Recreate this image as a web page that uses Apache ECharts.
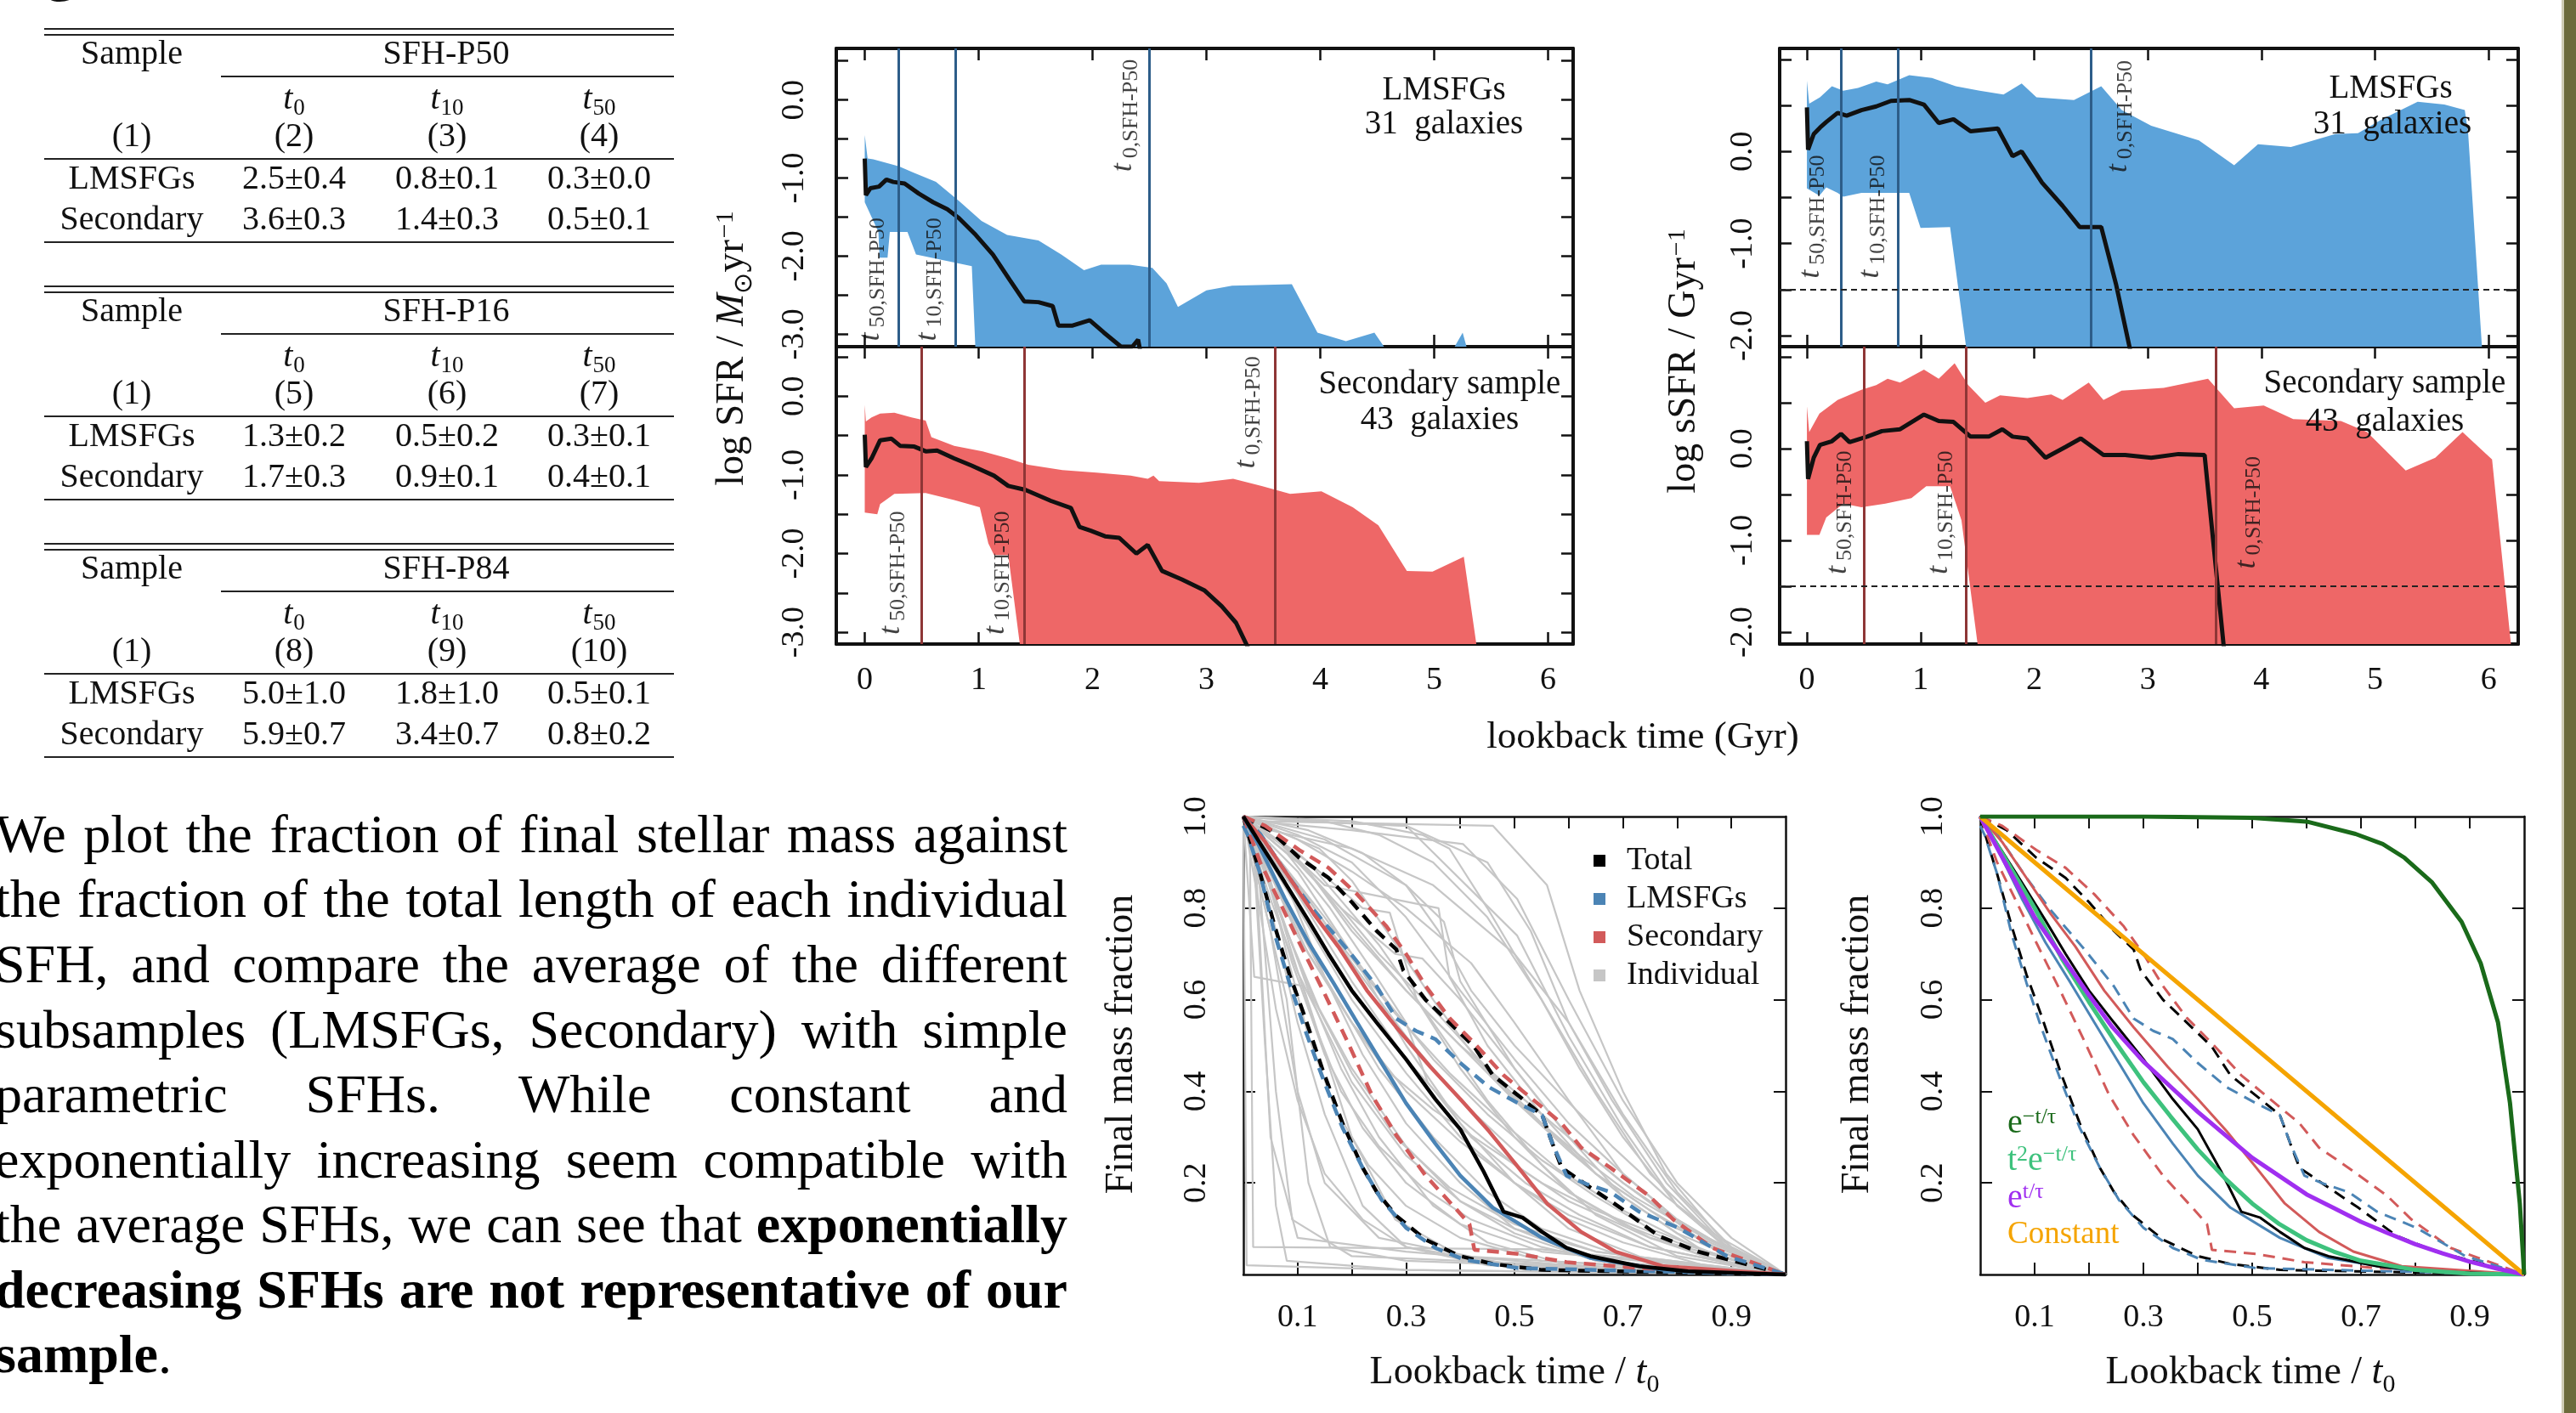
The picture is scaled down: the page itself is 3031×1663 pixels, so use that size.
<!DOCTYPE html>
<html><head><meta charset="utf-8">
<script src="https://cdn.jsdelivr.net/npm/echarts@6/dist/echarts.min.js"></script>
<style>html,body{margin:0;padding:0;background:#fff;overflow:hidden}#c{width:3031px;height:1663px}</style>
</head><body><div id="c"></div>
<script>
const FONT = '"Liberation Serif","Times New Roman",serif';

// ---------------- Table ----------------
const tableTitles = ['SFH-P50', 'SFH-P16', 'SFH-P84'];
const tableColNums = [['(2)','(3)','(4)'], ['(5)','(6)','(7)'], ['(8)','(9)','(10)']];
const tableSamples = ['LMSFGs', 'Secondary'];
const tableP50 = [['2.5±0.4','0.8±0.1','0.3±0.0'], ['3.6±0.3','1.4±0.3','0.5±0.1']];
const tableP16 = [['1.3±0.2','0.5±0.2','0.3±0.1'], ['1.7±0.3','0.9±0.1','0.4±0.1']];
const tableP84 = [['5.0±1.0','1.8±1.0','0.5±0.1'], ['5.9±0.7','3.4±0.7','0.8±0.2']];
const tableSubs = ['0','10','50'];

// ---------------- Paragraph ----------------
const paraLines = [
  'We plot the fraction of final stellar mass against',
  'the fraction of the total length of each individual',
  'SFH, and compare the average of the different',
  'subsamples (LMSFGs, Secondary) with simple',
  'parametric SFHs. While constant and',
  'exponentially increasing seem compatible with',
  'the average SFHs, we can see that *exponentially*',
  '*decreasing SFHs are not representative of our*',
  '*sample*.'
];

// ---------------- SFR / sSFR panels ----------------
const gyrTicks = [0,1,2,3,4,5,6];
const sfrTicks = [-3,-2.5,-2,-1.5,-1,-0.5,0,0.5];
const sfrLabels = [-3,-2,-1,0];
const ssfrTicks = [-2,-1.5,-1,-0.5,0,0.5,1];
const ssfrLabels = [-2,-1,0];
const tLmsfgs = [0.3, 0.8, 2.5];      // t50, t10, t0 (SFH-P50)
const tSecondary = [0.5, 1.4, 3.6];
const ssfrThreshold = -1.5;

// log SFR, LMSFGs
const sfrLmsUpper = [[0,-0.45],[0.025,-0.75],[0.075,-0.76],[0.225,-0.82],[0.3,-0.85],[0.425,-0.93],[0.625,-1.05],[0.825,-1.29],[1.025,-1.55],[1.25,-1.73],[1.525,-1.8],[1.725,-1.98],[1.925,-2.18],[2.075,-2.11],[2.325,-2.11],[2.525,-2.15],[2.65,-2.35],[2.75,-2.65],[3.0,-2.44],[3.225,-2.38],[3.75,-2.36],[3.975,-2.98],[4.225,-3.09],[4.475,-2.98],[4.625,-3.3],[5.125,-3.3],[5.25,-2.98],[5.31,-3.3]];
const sfrLmsLower = [[0,-1.31],[0.12,-1.69],[0.13,-2.02],[0.2,-2.02],[0.22,-1.69],[0.375,-1.69],[0.45,-1.98],[0.94,-2.13],[0.975,-3.3],[5.31,-3.3]];
const sfrLmsMedian = [[0,-0.75],[0.01,-1.22],[0.05,-1.13],[0.125,-1.11],[0.19,-1.02],[0.25,-1.05],[0.35,-1.07],[0.475,-1.2],[0.6,-1.31],[0.725,-1.4],[0.825,-1.51],[0.975,-1.73],[1.125,-1.98],[1.275,-2.31],[1.4,-2.58],[1.525,-2.59],[1.65,-2.64],[1.7,-2.89],[1.825,-2.89],[1.975,-2.82],[2.1,-2.98],[2.25,-3.16],[2.35,-3.16],[2.4,-3.07],[2.43,-3.3]];
// log SFR, Secondary
const sfrSecUpper = [[0,-0.11],[0.01,-0.32],[0.06,-0.27],[0.135,-0.22],[0.26,-0.21],[0.41,-0.27],[0.535,-0.31],[0.585,-0.52],[0.785,-0.63],[1.035,-0.7],[1.26,-0.79],[1.435,-0.87],[1.735,-0.94],[2.035,-0.97],[2.335,-1.01],[2.485,-1.05],[2.535,-1.01],[2.585,-1.08],[2.935,-1.1],[3.235,-1.05],[3.485,-1.14],[3.735,-1.24],[4.01,-1.21],[4.285,-1.41],[4.51,-1.64],[4.76,-2.22],[4.985,-2.23],[5.26,-2.04],[5.385,-3.3]];
const sfrSecLower = [[0,-1.48],[0.11,-1.5],[0.135,-1.37],[0.26,-1.24],[0.535,-1.23],[0.785,-1.32],[1.01,-1.41],[1.085,-1.87],[1.135,-2.02],[1.26,-2.02],[1.375,-3.3],[5.385,-3.3]];
const sfrSecMedian = [[0,-0.49],[0.01,-0.9],[0.06,-0.79],[0.135,-0.56],[0.235,-0.54],[0.31,-0.63],[0.435,-0.64],[0.535,-0.7],[0.635,-0.69],[0.785,-0.79],[0.935,-0.88],[1.135,-1.01],[1.26,-1.14],[1.41,-1.19],[1.635,-1.33],[1.81,-1.42],[1.885,-1.66],[1.985,-1.71],[2.11,-1.78],[2.235,-1.8],[2.385,-2.0],[2.485,-1.89],[2.61,-2.22],[2.785,-2.33],[2.985,-2.47],[3.135,-2.67],[3.26,-2.88],[3.4,-3.3]];
// log sSFR, LMSFGs
const ssfrLmsUpper = [[0,0.77],[0.02,0.52],[0.115,0.59],[0.22,0.71],[0.32,0.66],[0.45,0.69],[0.61,0.76],[0.71,0.73],[0.9,0.83],[1.1,0.8],[1.31,0.71],[1.52,0.66],[1.73,0.62],[1.89,0.74],[2.02,0.59],[2.35,0.56],[2.59,0.71],[2.77,0.45],[3.03,0.28],[3.45,0.12],[3.76,-0.15],[3.97,0.08],[4.26,0.05],[4.65,0.19],[4.85,0.2],[5.06,0.35],[5.375,0.54],[5.61,0.51],[5.79,0.45],[5.82,0.19],[5.95,-2.3]];
const ssfrLmsLower = [[0,-0.4],[0.11,-0.48],[0.17,-0.39],[0.27,-0.45],[0.32,-0.49],[0.48,-0.45],[0.9,-0.45],[1.0,-0.83],[1.26,-0.82],[1.42,-2.3],[5.95,-2.3]];
const ssfrLmsMedian = [[0,0.48],[0.01,0.02],[0.06,0.19],[0.115,0.26],[0.17,0.32],[0.27,0.42],[0.35,0.39],[0.48,0.45],[0.61,0.49],[0.74,0.55],[0.9,0.56],[1.03,0.51],[1.16,0.31],[1.29,0.35],[1.44,0.22],[1.68,0.25],[1.81,-0.05],[1.89,0.0],[2.07,-0.34],[2.25,-0.59],[2.4,-0.82],[2.59,-0.82],[2.72,-1.44],[2.87,-2.3]];
// log sSFR, Secondary
const ssfrSecUpper = [[0,0.46],[0.02,0.18],[0.11,0.38],[0.27,0.53],[0.48,0.64],[0.61,0.69],[0.71,0.76],[0.82,0.72],[1.03,0.86],[1.16,0.76],[1.3,0.93],[1.42,0.69],[1.57,0.5],[1.7,0.58],[1.94,0.55],[2.15,0.59],[2.25,0.53],[2.48,0.72],[2.61,0.53],[2.77,0.63],[3.14,0.66],[3.53,0.76],[3.76,0.44],[4.02,0.47],[4.28,0.32],[4.7,0.3],[4.93,0.18],[5.27,-0.24],[5.53,-0.1],[5.77,0.18],[6.03,-0.12],[6.21,-2.3]];
const ssfrSecLower = [[0,-0.94],[0.11,-0.94],[0.17,-0.75],[0.32,-0.6],[0.48,-0.64],[0.69,-0.6],[0.92,-0.54],[1.05,-0.41],[1.26,-0.41],[1.36,-0.78],[1.52,-2.3],[6.21,-2.3]];
const ssfrSecMedian = [[0,0.08],[0.01,-0.33],[0.06,-0.1],[0.115,0.04],[0.22,0.08],[0.3,0.16],[0.375,0.07],[0.53,0.13],[0.66,0.19],[0.82,0.21],[1.03,0.37],[1.16,0.3],[1.29,0.29],[1.44,0.13],[1.6,0.13],[1.72,0.21],[1.81,0.13],[1.94,0.11],[2.1,-0.1],[2.28,0.02],[2.41,0.11],[2.61,-0.07],[2.8,-0.07],[3.03,-0.1],[3.27,-0.06],[3.5,-0.07],[3.68,-2.3]];

// rotated t-labels: [x, y-start, subscript]
const lblSfrLms = [[0.05,-3.09,'50,SFH-P50'],[0.55,-3.09,'10,SFH-P50'],[2.27,-0.92,'0,SFH-P50']];
const lblSfrSec = [[0.23,-3.03,'50,SFH-P50'],[1.15,-3.03,'10,SFH-P50'],[3.35,-0.92,'0,SFH-P50']];
const lblSsfrLms = [[0.03,-1.38,'50,SFH-P50'],[0.56,-1.38,'10,SFH-P50'],[2.74,-0.23,'0,SFH-P50']];
const lblSsfrSec = [[0.27,-1.37,'50,SFH-P50'],[1.16,-1.37,'10,SFH-P50'],[3.87,-1.31,'0,SFH-P50']];

// ---------------- Mass fraction panels ----------------
const fracTicks = [0.1,0.2,0.3,0.4,0.5,0.6,0.7,0.8,0.9];
const fracXLabels = [0.1,0.3,0.5,0.7,0.9];
const fracYTicks = [0.2,0.4,0.6,0.8];
const fracYLabels = [0.2,0.4,0.6,0.8,1.0];

const totalMed = [[0,1],[0.029,0.945],[0.076,0.857],[0.12,0.773],[0.157,0.7],[0.2,0.62],[0.246,0.55],[0.3,0.47],[0.354,0.383],[0.4,0.317],[0.443,0.225],[0.48,0.137],[0.515,0.124],[0.551,0.093],[0.596,0.058],[0.64,0.04],[0.73,0.018],[0.82,0.007],[1,0]];
const lmsMed = [[0,1],[0.029,0.936],[0.076,0.822],[0.12,0.725],[0.166,0.637],[0.21,0.55],[0.255,0.462],[0.3,0.374],[0.354,0.286],[0.4,0.216],[0.46,0.146],[0.551,0.08],[0.64,0.036],[0.775,0.01],[1,0]];
const secMed = [[0,1],[0.04,0.945],[0.085,0.866],[0.13,0.787],[0.175,0.716],[0.228,0.62],[0.282,0.54],[0.345,0.453],[0.4,0.383],[0.453,0.313],[0.507,0.234],[0.56,0.155],[0.623,0.093],[0.686,0.05],[0.775,0.018],[1,0]];
const totalHi = [[0,1],[0.049,0.97],[0.103,0.91],[0.157,0.866],[0.2,0.813],[0.246,0.75],[0.282,0.71],[0.295,0.664],[0.336,0.6],[0.38,0.55],[0.426,0.497],[0.46,0.435],[0.515,0.383],[0.551,0.348],[0.57,0.286],[0.587,0.233],[0.64,0.19],[0.695,0.146],[0.766,0.084],[0.838,0.05],[1,0]];
const secHi = [[0,1],[0.04,0.98],[0.103,0.927],[0.157,0.888],[0.21,0.83],[0.264,0.76],[0.3,0.7],[0.336,0.63],[0.38,0.56],[0.426,0.505],[0.48,0.435],[0.533,0.383],[0.587,0.33],[0.623,0.277],[0.677,0.233],[0.748,0.172],[0.793,0.12],[0.865,0.058],[1,0]];
const lmsHi = [[0,1],[0.031,0.962],[0.085,0.866],[0.13,0.795],[0.193,0.708],[0.246,0.629],[0.282,0.559],[0.318,0.532],[0.354,0.514],[0.4,0.462],[0.453,0.409],[0.507,0.374],[0.551,0.348],[0.57,0.286],[0.596,0.216],[0.632,0.198],[0.677,0.18],[0.73,0.137],[0.802,0.102],[0.892,0.04],[1,0]];
const totalLo = [[0,1],[0.008,0.965],[0.031,0.875],[0.058,0.76],[0.085,0.655],[0.112,0.567],[0.147,0.444],[0.183,0.33],[0.22,0.233],[0.246,0.18],[0.282,0.128],[0.336,0.076],[0.4,0.04],[0.46,0.023],[0.551,0.01],[1,0]];
const lmsLo = [[0,0.98],[0.008,0.96],[0.031,0.875],[0.058,0.742],[0.085,0.637],[0.112,0.54],[0.147,0.427],[0.183,0.32],[0.22,0.233],[0.255,0.163],[0.3,0.102],[0.354,0.058],[0.408,0.032],[0.507,0.014],[1,0]];
const secLo = [[0,1],[0.031,0.9],[0.067,0.813],[0.103,0.725],[0.147,0.62],[0.193,0.506],[0.237,0.392],[0.282,0.304],[0.336,0.216],[0.39,0.146],[0.417,0.11],[0.426,0.054],[0.507,0.045],[0.596,0.027],[0.73,0.014],[1,0]];

const individualSFHs = [
 [[0,1],[0.012,0.95],[0.018,0.06],[0.55,0.055],[1,0]],
 [[0,1],[0.02,0.96],[0.05,0.3],[0.1,0.08],[0.3,0.05],[0.6,0.02],[1,0]],
 [[0,1],[0.006,0.02],[0.3,0.01],[1,0]],
 [[0,1],[0.03,0.85],[0.06,0.4],[0.09,0.12],[0.2,0.04],[1,0]],
 [[0,1],[0.05,0.75],[0.1,0.4],[0.15,0.2],[0.25,0.08],[0.5,0.02],[1,0]],
 [[0,1],[0.05,0.8],[0.1,0.55],[0.15,0.35],[0.22,0.15],[0.3,0.06],[0.5,0.02],[1,0]],
 [[0,1],[0.02,0.65],[0.11,0.63],[0.2,0.3],[0.28,0.12],[0.4,0.04],[1,0]],
 [[0,1],[0.06,0.82],[0.12,0.62],[0.18,0.45],[0.25,0.3],[0.35,0.15],[0.45,0.07],[0.6,0.02],[1,0]],
 [[0,1],[0.08,0.85],[0.15,0.65],[0.22,0.48],[0.3,0.33],[0.4,0.2],[0.5,0.1],[0.65,0.03],[1,0]],
 [[0,1],[0.1,0.88],[0.2,0.7],[0.3,0.5],[0.4,0.33],[0.5,0.2],[0.6,0.1],[0.75,0.03],[1,0]],
 [[0,1],[0.12,0.9],[0.25,0.72],[0.35,0.55],[0.45,0.38],[0.55,0.24],[0.65,0.13],[0.8,0.04],[1,0]],
 [[0,1],[0.15,0.95],[0.3,0.85],[0.37,0.77],[0.4,0.64],[0.5,0.45],[0.6,0.3],[0.7,0.17],[0.85,0.05],[1,0]],
 [[0,1],[0.2,0.99],[0.33,0.96],[0.38,0.93],[0.45,0.8],[0.55,0.6],[0.65,0.4],[0.75,0.22],[0.88,0.07],[1,0]],
 [[0,1],[0.1,0.99],[0.3,0.98],[0.45,0.9],[0.53,0.75],[0.6,0.55],[0.68,0.38],[0.78,0.2],[0.9,0.05],[1,0]],
 [[0,1],[0.05,0.97],[0.2,0.93],[0.35,0.85],[0.5,0.7],[0.6,0.55],[0.7,0.35],[0.8,0.18],[0.9,0.06],[1,0]],
 [[0,1],[0.1,0.95],[0.2,0.88],[0.3,0.8],[0.42,0.68],[0.5,0.55],[0.6,0.38],[0.7,0.22],[0.82,0.1],[1,0]],
 [[0,1],[0.08,0.93],[0.18,0.8],[0.28,0.7],[0.33,0.69],[0.4,0.6],[0.5,0.45],[0.6,0.3],[0.7,0.2],[0.85,0.07],[1,0]],
 [[0,1],[0.12,0.88],[0.2,0.75],[0.3,0.62],[0.4,0.5],[0.5,0.38],[0.6,0.27],[0.7,0.17],[0.8,0.09],[0.92,0.03],[1,0]],
 [[0,1],[0.04,0.9],[0.1,0.74],[0.2,0.55],[0.3,0.4],[0.4,0.29],[0.5,0.2],[0.6,0.13],[0.75,0.06],[1,0]],
 [[0,1],[0.05,0.88],[0.1,0.76],[0.15,0.65],[0.25,0.45],[0.35,0.3],[0.45,0.18],[0.55,0.1],[0.7,0.04],[1,0]],
 [[0,1],[0.03,0.92],[0.08,0.75],[0.14,0.58],[0.2,0.45],[0.3,0.28],[0.4,0.16],[0.5,0.09],[0.65,0.03],[1,0]],
 [[0,1],[0.04,0.88],[0.09,0.68],[0.15,0.48],[0.22,0.32],[0.3,0.2],[0.4,0.11],[0.55,0.05],[1,0]],
 [[0,1],[0.06,0.85],[0.12,0.7],[0.2,0.55],[0.26,0.45],[0.35,0.36],[0.45,0.28],[0.55,0.2],[0.65,0.14],[0.8,0.07],[1,0]],
 [[0,1],[0.07,0.9],[0.15,0.78],[0.25,0.62],[0.35,0.47],[0.45,0.35],[0.55,0.25],[0.65,0.17],[0.75,0.1],[0.88,0.04],[1,0]],
 [[0,1],[0.1,0.92],[0.18,0.84],[0.22,0.8],[0.27,0.79],[0.32,0.6],[0.4,0.45],[0.5,0.3],[0.6,0.18],[0.75,0.08],[1,0]],
 [[0,1],[0.08,0.93],[0.15,0.85],[0.36,0.8],[0.38,0.65],[0.45,0.5],[0.55,0.35],[0.65,0.22],[0.8,0.1],[1,0]],
 [[0,1],[0.02,0.99],[0.2,0.97],[0.405,0.94],[0.505,0.82],[0.6,0.6],[0.7,0.38],[0.8,0.2],[0.9,0.08],[1,0]],
 [[0,1],[0.1,0.99],[0.3,0.98],[0.505,0.74],[0.6,0.52],[0.7,0.32],[0.8,0.15],[0.9,0.05],[1,0]],
 [[0,1],[0.05,0.9],[0.1,0.8],[0.2,0.6],[0.3,0.44],[0.4,0.3],[0.5,0.2],[0.6,0.12],[0.7,0.07],[0.85,0.02],[1,0]],
 [[0,1],[0.05,0.93],[0.12,0.82],[0.2,0.68],[0.3,0.52],[0.4,0.38],[0.5,0.27],[0.6,0.18],[0.7,0.11],[0.85,0.04],[1,0]],
 [[0,1],[0.03,0.95],[0.1,0.85],[0.18,0.72],[0.28,0.57],[0.38,0.44],[0.48,0.33],[0.58,0.23],[0.7,0.14],[0.85,0.05],[1,0]],
 [[0,1],[0.1,0.83],[0.2,0.64],[0.3,0.47],[0.4,0.34],[0.5,0.24],[0.6,0.16],[0.75,0.08],[0.9,0.02],[1,0]],
 [[0,1],[0.05,0.82],[0.1,0.66],[0.2,0.42],[0.3,0.26],[0.4,0.16],[0.5,0.1],[0.65,0.05],[1,0]],
 [[0,1],[0.07,0.78],[0.13,0.6],[0.2,0.44],[0.28,0.3],[0.38,0.19],[0.5,0.11],[0.65,0.05],[1,0]],
 [[0,1],[0.06,0.95],[0.12,0.88],[0.2,0.76],[0.3,0.62],[0.4,0.5],[0.5,0.4],[0.6,0.3],[0.7,0.2],[0.8,0.12],[0.9,0.05],[1,0]],
 [[0,1],[0.1,0.96],[0.2,0.9],[0.3,0.78],[0.4,0.62],[0.5,0.47],[0.6,0.33],[0.7,0.22],[0.8,0.12],[0.9,0.05],[1,0]],
 [[0,1],[0.15,0.99],[0.25,0.96],[0.35,0.9],[0.45,0.78],[0.55,0.6],[0.62,0.45],[0.7,0.3],[0.8,0.15],[0.9,0.05],[1,0]],
 [[0,1],[0.02,0.97],[0.05,0.85],[0.08,0.7],[0.12,0.52],[0.17,0.36],[0.23,0.24],[0.3,0.15],[0.4,0.08],[0.55,0.03],[1,0]],
 [[0,1],[0.03,0.8],[0.06,0.58],[0.1,0.38],[0.15,0.22],[0.22,0.12],[0.3,0.06],[0.45,0.02],[1,0]],
 [[0,1],[0.08,0.92],[0.16,0.8],[0.24,0.66],[0.3,0.55],[0.34,0.42],[0.42,0.3],[0.52,0.2],[0.62,0.13],[0.75,0.06],[1,0]],
 [[0,1],[0.04,0.96],[0.1,0.9],[0.18,0.8],[0.25,0.7],[0.35,0.58],[0.45,0.45],[0.55,0.33],[0.65,0.22],[0.75,0.14],[0.88,0.05],[1,0]],
 [[0,1],[0.12,0.97],[0.22,0.92],[0.3,0.85],[0.36,0.75],[0.42,0.62],[0.5,0.5],[0.58,0.4],[0.68,0.28],[0.78,0.17],[0.9,0.06],[1,0]],
 [[0,1],[0.05,0.86],[0.09,0.7],[0.13,0.55],[0.18,0.4],[0.25,0.28],[0.33,0.19],[0.42,0.12],[0.55,0.06],[0.7,0.02],[1,0]],
 [[0,1],[0.08,0.96],[0.14,0.93],[0.2,0.86],[0.27,0.74],[0.35,0.6],[0.43,0.47],[0.52,0.36],[0.62,0.26],[0.72,0.17],[0.85,0.08],[1,0]],
 [[0,1],[0.02,0.99],[0.46,0.98],[0.56,0.85],[0.62,0.62],[0.7,0.4],[0.78,0.22],[0.88,0.08],[1,0]],
 [[0,1],[0.02,0.9],[0.04,0.5],[0.06,0.15],[0.08,0.03],[0.3,0.01],[1,0]],
 [[0,1],[0.08,0.6],[0.12,0.2],[0.16,0.06],[0.3,0.03],[1,0]]
];

// parametric models
const modelExpDec = [[0,1],[0.3,1],[0.5,0.997],[0.6,0.989],[0.69,0.962],[0.74,0.94],[0.78,0.91],[0.83,0.857],[0.885,0.77],[0.92,0.68],[0.952,0.55],[0.974,0.374],[0.992,0.155],[1,0]];
const modelDelayed = [[0,1],[0.05,0.9],[0.1,0.8],[0.15,0.69],[0.2,0.595],[0.25,0.505],[0.3,0.42],[0.35,0.345],[0.4,0.273],[0.45,0.21],[0.5,0.155],[0.55,0.11],[0.6,0.075],[0.65,0.05],[0.7,0.03],[0.8,0.01],[0.9,0.002],[1,0]];
const modelExpInc = [[0,1],[0.1,0.78],[0.2,0.61],[0.243,0.54],[0.3,0.465],[0.35,0.41],[0.4,0.355],[0.45,0.305],[0.5,0.255],[0.55,0.215],[0.6,0.175],[0.65,0.145],[0.7,0.115],[0.75,0.09],[0.8,0.066],[0.85,0.046],[0.9,0.028],[0.95,0.013],[1,0]];
const modelConst = [[0,1],[1,0]];

// ---------------- colours ----------------
const C_BLUE_FILL = '#5ca3da', C_RED_FILL = '#ee6767';
const C_BLUE_VL = '#2d5d89', C_RED_VL = '#8e3636';
const C_BLUE = '#4b84b5', C_RED = '#d25a5a', C_GRAY = '#c6c6c6', C_BLACK = '#000';

// ---------------- layout ----------------
const grids = [
  {left:984,  top:57,  width:867, height:351},
  {left:984,  top:408, width:867, height:350},
  {left:2094, top:57,  width:869, height:351},
  {left:2094, top:408, width:869, height:350},
  {left:1463, top:961, width:638, height:539},
  {left:2330, top:961, width:640, height:539}
];
const xAxes = [], yAxes = [];
function addAxes(gi, xr, yr, xt, xl, yt, yl, opt) {
  const base = (pos, r, ticks, labels, show, isY) => ({
    type:'value', gridIndex:gi, position:pos, min:r[0], max:r[1],
    axisLine:{show:true, onZero:false, lineStyle:{color:'#111', width:opt.lw}},
    axisTick:{show:true, inside:true, length:opt.tl, customValues:ticks, lineStyle:{color:'#111', width:opt.tw}},
    axisLabel:{show:show, customValues:labels, rotate:isY?90:0, margin:isY?opt.ym:opt.xm,
      fontFamily:FONT, fontSize:opt.fs, color:'#111',
      formatter: isY ? opt.fy : opt.fx},
    splitLine:{show:false}, axisPointer:{show:false}
  });
  xAxes.push(base('bottom', xr, xt, xl, opt.showX, false));
  xAxes.push(base('top', xr, xt, xl, false, false));
  yAxes.push(base('left', yr, yt, yl, true, true));
  yAxes.push(base('right', yr, yt, yl, false, true));
}
const fmtInt = v => String(Math.round(v));
const fmt1 = v => Number(v).toFixed(1);
const topOpt = (showX, ym) => ({lw:4, tl:14, tw:2.5, fs:38, xm:24, ym:ym, showX:showX, fx:fmtInt, fy:fmt1});
const botOpt = {lw:2.5, tl:14, tw:2, fs:38, xm:32, ym:36, showX:true, fx:fmt1, fy:fmt1};
addAxes(0, [-0.25,6.22], [-3.16,0.66], gyrTicks, gyrTicks, sfrTicks, sfrLabels, topOpt(false,30));
addAxes(1, [-0.25,6.22], [-3.15,0.63], gyrTicks, gyrTicks, sfrTicks, sfrLabels, topOpt(true,30));
addAxes(2, [-0.24,6.26], [-2.12,1.12], gyrTicks, gyrTicks, ssfrTicks, ssfrLabels, topOpt(false,24));
addAxes(3, [-0.24,6.26], [-2.13,1.11], gyrTicks, gyrTicks, ssfrTicks, ssfrLabels, topOpt(true,24));
addAxes(4, [0,1], [0,1], fracTicks, fracXLabels, fracYTicks, fracYLabels, botOpt);
addAxes(5, [0,1], [0,1], fracTicks, fracXLabels, fracYTicks, fracYLabels, botOpt);

const series = [];
function band(gi, upper, lower, color) {
  series.push({type:'custom', xAxisIndex:2*gi, yAxisIndex:2*gi, clip:true, silent:true, z:1,
    data:[[0,0]],
    renderItem:(params, api) => {
      const pts = upper.map(p => api.coord(p)).concat(lower.slice().reverse().map(p => api.coord(p)));
      return {type:'polygon', shape:{points:pts}, style:{fill:color}};
    }});
}
function median(gi, data, vlines, vcolor, withThreshold) {
  const ml = vlines.map(v => ({xAxis:v, lineStyle:{color:vcolor, width:3, type:'solid'}}));
  if (withThreshold) ml.push({yAxis:ssfrThreshold, lineStyle:{color:'#222', width:1.8, type:[7,5]}});
  series.push({type:'line', xAxisIndex:2*gi, yAxisIndex:2*gi, data:data, symbol:'none', clip:true, z:3,
    lineStyle:{color:'#111', width:5}, silent:true,
    markLine:{silent:true, symbol:['none','none'], label:{show:false}, data:ml, animation:false}});
}
function tlabels(gi, arr) {
  series.push({type:'scatter', xAxisIndex:2*gi, yAxisIndex:2*gi, symbolSize:0, z:6, silent:true,
    data: arr.map(a => ({value:[a[0], a[1]], name:a[2]})),
    label:{show:true, position:'inside', rotate:90, align:'left', verticalAlign:'middle',
      formatter: p => '{t|t}{s|' + p.name + '}',
      rich:{t:{fontFamily:FONT, fontStyle:'italic', fontSize:36, color:'#111', verticalAlign:'top', lineHeight:36, padding:[0,6,0,0]},
            s:{fontFamily:FONT, fontSize:26, color:'#111', verticalAlign:'top', lineHeight:26, padding:[14,0,0,0]}}}});
}
band(0, sfrLmsUpper, sfrLmsLower, C_BLUE_FILL);
median(0, sfrLmsMedian, tLmsfgs, C_BLUE_VL, false);
tlabels(0, lblSfrLms);
band(1, sfrSecUpper, sfrSecLower, C_RED_FILL);
median(1, sfrSecMedian, tSecondary, C_RED_VL, false);
tlabels(1, lblSfrSec);
band(2, ssfrLmsUpper, ssfrLmsLower, C_BLUE_FILL);
median(2, ssfrLmsMedian, tLmsfgs, C_BLUE_VL, true);
tlabels(2, lblSsfrLms);
band(3, ssfrSecUpper, ssfrSecLower, C_RED_FILL);
median(3, ssfrSecMedian, tSecondary, C_RED_VL, true);
tlabels(3, lblSsfrSec);

function fline(gi, name, data, color, width, dashed, z) {
  series.push({type:'line', name:name, xAxisIndex:2*gi, yAxisIndex:2*gi, data:data, symbol:'none', clip:true, z:z, silent:true,
    itemStyle:{color:color}, lineStyle:{color:color, width:width, type: dashed ? [14,9] : 'solid'}});
}
individualSFHs.forEach(d => fline(4, 'Individual', d, C_GRAY, 2.2, false, 1));
[4,5].forEach(gi => {
  const w = gi === 4 ? 4.5 : 3;
  fline(gi, 'Total P84', totalHi, C_BLACK, w, true, 2);
  fline(gi, 'Secondary P84', secHi, C_RED, w, true, 2);
  fline(gi, 'LMSFGs P84', lmsHi, C_BLUE, w, true, 2);
  fline(gi, 'Total P16', totalLo, C_BLACK, w, true, 2);
  fline(gi, 'LMSFGs P16', lmsLo, C_BLUE, w, true, 2);
  fline(gi, 'Secondary P16', secLo, C_RED, w, true, 2);
  fline(gi, 'LMSFGs', lmsMed, C_BLUE, w, false, 3);
  fline(gi, 'Secondary', secMed, C_RED, w, false, 3);
  fline(gi, 'Total', totalMed, C_BLACK, w, false, 4);
});
fline(5, 't2e-t/tau', modelDelayed, '#3ec27d', 5, false, 5);
fline(5, 'et/tau', modelExpInc, '#a02ff0', 5, false, 5);
fline(5, 'Constant', modelConst, '#f5a400', 5, false, 6);
fline(5, 'e-t/tau', modelExpDec, '#1a6a1a', 5, false, 6);

// ---------------- graphic: text elements ----------------
const gfx = [];
function txt(x, y, text, size, extra) {
  gfx.push(Object.assign({type:'text', x:x, y:y, z:100, silent:true,
    style:Object.assign({text:text, font: size + 'px ' + FONT, fill:'#111', textAlign:'center', textVerticalAlign:'middle'}, extra && extra.style || {})},
    extra && extra.el || {}));
}
function rule(x1, x2, y, w) {
  gfx.push({type:'line', z:100, silent:true, shape:{x1:x1, y1:y, x2:x2, y2:y}, style:{stroke:'#222', lineWidth:w || 2}});
}
// table
const tblBases = [34, 337, 640];
const tblCols = [346, 526, 705];
const tblVals = [tableP50, tableP16, tableP84];
tblBases.forEach((b, k) => {
  rule(52, 793, b, 2); rule(52, 793, b + 7, 2);
  rule(260, 793, b + 56, 2);
  rule(52, 793, b + 153, 2);
  rule(52, 793, b + 251, 2);
  txt(155, b + 30, 'Sample', 40);
  txt(525, b + 30, tableTitles[k], 40);
  tblCols.forEach((cx, j) => {
    txt(cx, b + 83, '{i|t}{s|' + tableSubs[j] + '}', 40, {style:{rich:{
      i:{font:'italic 40px ' + FONT, fill:'#111', verticalAlign:'top', lineHeight:40},
      s:{font:'27px ' + FONT, fill:'#111', verticalAlign:'top', lineHeight:27, padding:[17,0,0,1]}}}});
    txt(cx, b + 127, tableColNums[k][j], 40);
  });
  txt(155, b + 127, '(1)', 40);
  tableSamples.forEach((s, r) => {
    const y = b + 177 + r * 48;
    txt(155, y, s, 40);
    tblVals[k][r].forEach((v, j) => txt(tblCols[j], y, v, 40));
  });
});
// cut-off glyph at top left
txt(52, -35, 'g', 78, {style:{textAlign:'left'}});

// paragraph (justified)
(function () {
  const FS = 64, X0 = -6, X1 = 1256, Y0 = 986, DY = 76.6;
  const ctx = document.createElement('canvas').getContext('2d');
  const fnt = b => (b ? 'bold ' : '') + FS + 'px ' + FONT;
  let bold = false;
  paraLines.forEach((line, li) => {
    const words = line.split(' ').map(w => {
      const parts = []; let cur = '';
      for (const ch of w) {
        if (ch === '*') { if (cur) parts.push([cur, bold]); cur = ''; bold = !bold; }
        else cur += ch;
      }
      if (cur) parts.push([cur, bold]);
      return parts.map(p => { ctx.font = fnt(p[1]); return {t:p[0], b:p[1], w:ctx.measureText(p[0]).width}; });
    });
    const widths = words.map(ps => ps.reduce((s, p) => s + p.w, 0));
    const total = widths.reduce((s, v) => s + v, 0);
    ctx.font = fnt(false);
    const last = li === paraLines.length - 1;
    const gap = last ? ctx.measureText(' ').width : (X1 - X0 - total) / (words.length - 1);
    let x = X0;
    const y = Y0 + li * DY;
    words.forEach(ps => {
      ps.forEach(p => {
        gfx.push({type:'text', x:x, y:y, z:100, silent:true, style:{text:p.t, font:fnt(p.b), fill:'#000', textAlign:'left', textVerticalAlign:'middle'}});
        x += p.w;
      });
      x += gap;
    });
  });
})();

// panel annotations
txt(1699, 107, 'LMSFGs', 39); txt(1699, 147, '31  galaxies', 39);
txt(1694, 453, 'Secondary sample', 39); txt(1694, 495, '43  galaxies', 39);
txt(2813, 105, 'LMSFGs', 39); txt(2815, 147, '31  galaxies', 39);
txt(2806, 452, 'Secondary sample', 39); txt(2806, 497, '43  galaxies', 39);

// axis titles
const titleRich = {
  a:{font:'46px ' + FONT, fill:'#111', verticalAlign:'top', lineHeight:46},
  m:{font:'italic 46px ' + FONT, fill:'#111', verticalAlign:'top', lineHeight:46},
  sub:{font:'30px ' + FONT, fill:'#111', verticalAlign:'top', lineHeight:30, padding:[22,0,0,0]},
  sup:{font:'30px ' + FONT, fill:'#111', verticalAlign:'top', lineHeight:30, padding:[0,0,0,2]}
};
txt(862, 410, '{a|log SFR / }{m|M}{sub|⊙}{a|yr}{sup|−1}', 46, {style:{rich:titleRich}, el:{rotation:Math.PI/2}});
txt(1982, 425, '{a|log sSFR / Gyr}{sup|−1}', 46, {style:{rich:titleRich}, el:{rotation:Math.PI/2}});
txt(1933, 868, 'lookback time (Gyr)', 45);
txt(1320, 1229, 'Final mass fraction', 46, {el:{rotation:Math.PI/2}});
txt(2186, 1229, 'Final mass fraction', 46, {el:{rotation:Math.PI/2}});
txt(1782, 1616, '{a|Lookback time / }{m|t}{sub|0}', 46, {style:{rich:titleRich}});
txt(2648, 1616, '{a|Lookback time / }{m|t}{sub|0}', 46, {style:{rich:titleRich}});

// model labels in right panel
const modelRich = c => ({
  e:{font:'40px ' + FONT, fill:c, verticalAlign:'top', lineHeight:40},
  p:{font:'26px ' + FONT, fill:c, verticalAlign:'top', lineHeight:26}
});
txt(2362, 1322, '{e|e}{p|−t/τ}', 40, {style:{textAlign:'left', rich:modelRich('#1a6a1a')}});
txt(2362, 1366, '{e|t}{p|2}{e|e}{p|−t/τ}', 40, {style:{textAlign:'left', rich:modelRich('#3ec27d')}});
txt(2362, 1410, '{e|e}{p|t/τ}', 40, {style:{textAlign:'left', rich:modelRich('#a02ff0')}});
txt(2362, 1453, 'Constant', 37, {style:{textAlign:'left', fill:'#f5a400'}});

// olive side bar
gfx.push({type:'rect', z:100, silent:true, shape:{x:3017, y:0, width:14, height:1663}, style:{fill:'#6c6b3b'}});
gfx.push({type:'rect', z:100, silent:true, shape:{x:3014, y:0, width:3, height:1663}, style:{fill:'#cfcdb5'}});

const option = {
  animation:false,
  backgroundColor:'#fff',
  grid: grids.map(g => Object.assign({containLabel:false, show:false}, g)),
  xAxis: xAxes,
  yAxis: yAxes,
  legend:{data:['Total','LMSFGs','Secondary','Individual'], orient:'vertical', left:1870, top:989,
    itemWidth:14, itemHeight:14, itemGap:7, icon:'rect', selectedMode:false,
    textStyle:{fontFamily:FONT, fontSize:38, color:'#111', lineHeight:38, padding:[0,0,0,20]}},
  series: series,
  graphic: {elements: gfx}
};
const chart = echarts.init(document.getElementById('c'), null, {renderer:'canvas', width:3031, height:1663});
chart.setOption(option);
</script></body></html>
